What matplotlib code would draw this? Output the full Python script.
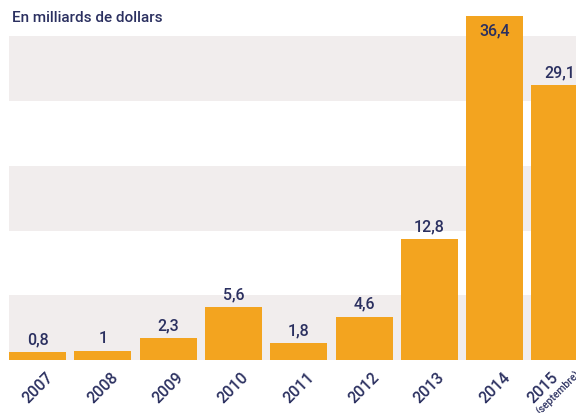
import matplotlib.pyplot as plt
import matplotlib.transforms as mtransforms
import numpy as np

# data
years = ['2007', '2008', '2009', '2010', '2011', '2012', '2013', '2014', '2015']
values = [0.8, 1, 2.3, 5.6, 1.8, 4.6, 12.8, 36.4, 29.1]
labels = ['0,8', '1', '2,3', '5,6', '1,8', '4,6', '12,8', '36,4', '29,1']

orange = '#F3A41F'
band_col = '#F1EDED'
navy = '#2B3060'
plt.rcParams['font.family'] = ['Roboto', 'DejaVu Sans']

fig = plt.figure(figsize=(5.76, 4.14), dpi=100)
ax = fig.add_axes([9/576, 1-361/414, 1-9/576, 361/414])

x = np.arange(len(years))
ax.bar(x, values, width=0.875, color=orange, zorder=3)

# alternating background bands
band = 6.85
for i in range(0, 6, 2):
    ax.axhspan(i*band, (i+1)*band, color=band_col, zorder=0, lw=0)

for xi, v, lab in zip(x, values, labels):
    if v > 35:
        ax.text(xi, v - 0.7, lab, ha='center', va='top', color=navy,
                fontsize=11.5, fontweight='medium', zorder=4)
    else:
        ax.text(xi, v + 0.6, lab, ha='center', va='bottom', color=navy,
                fontsize=11.5, fontweight='medium', zorder=4)

ax.set_xlim(-0.4375, 8.245)
ax.set_ylim(0, 38.2)
ax.set_yticks([])
ax.set_xticks(x)
ax.set_xticklabels(years, rotation=45, ha='center', va='top',
                   color=navy, fontsize=11.5, fontweight='medium')
ax.tick_params(axis='x', length=0, pad=6)
for s in ax.spines.values():
    s.set_visible(False)

# last bar is cut by the edge, so its year label sits further left
last = ax.get_xticklabels()[-1]
last.set_transform(last.get_transform() +
                   mtransforms.ScaledTranslation(-0.17, 0, fig.dpi_scale_trans))

fig.text(534/576, -3/414, '(septembre)', rotation=45,
         color=navy, fontsize=7.5, fontweight='medium', ha='left', va='bottom')
fig.text(12/576, 1-18/414, 'En milliards de dollars', color=navy,
         fontsize=11, fontweight='medium', ha='left', va='center')

fig.savefig('out.png', dpi=100)
